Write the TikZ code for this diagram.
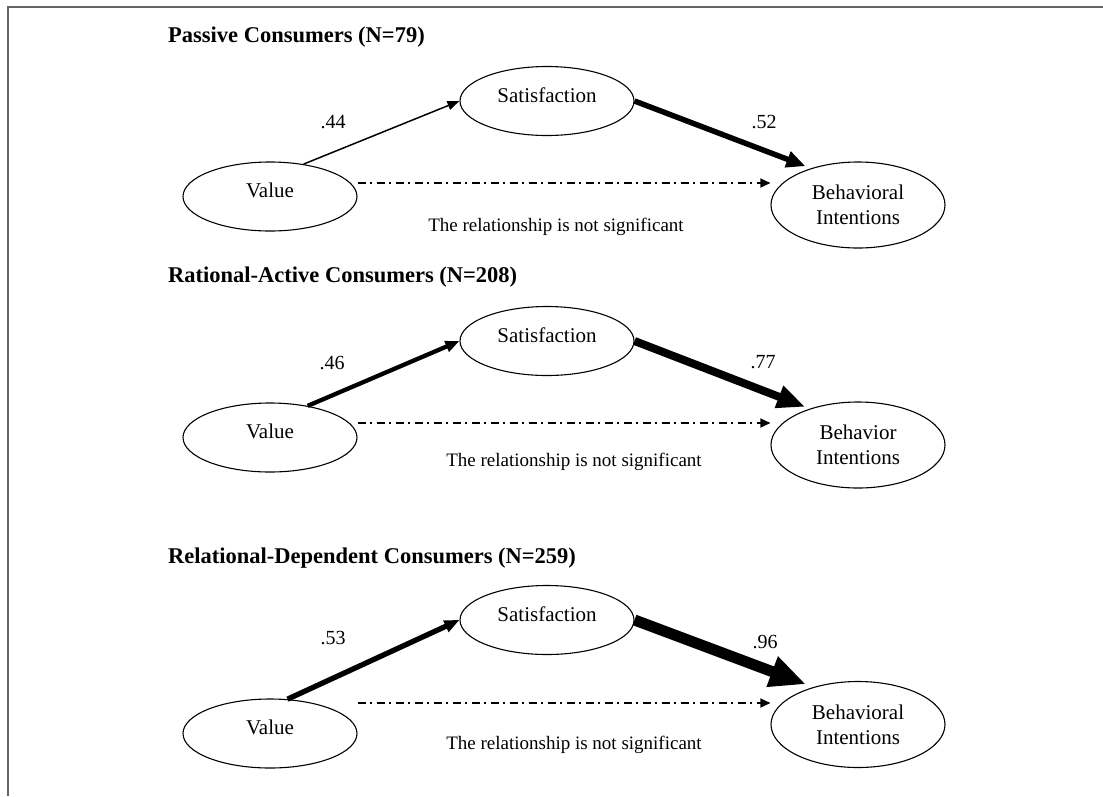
\documentclass[tikz,border=0pt]{standalone}
\usepackage{fontspec}
\setmainfont{Liberation Serif}
\usetikzlibrary{arrows.meta,shapes.geometric}
\begin{document}
\begin{tikzpicture}[x=1pt,y=-1pt,
  ovalbase/.style={draw,ellipse,line width=1.1pt,inner sep=0pt,minimum width=174pt,
    font=\fontsize{21}{25}\selectfont,align=center},
  oval/.style={ovalbase,minimum height=69pt,text depth=12pt},
  bigoval/.style={ovalbase,minimum height=86pt},
  ttl/.style={anchor=base west,inner sep=0pt,font=\fontsize{22.5}{27}\bfseries\selectfont},
  coef/.style={inner sep=0pt,font=\fontsize{20}{24}\selectfont},
  nsig/.style={inner sep=0pt,font=\fontsize{19}{23}\selectfont},
  dd/.style={line width=1.3pt,dash pattern=on 8pt off 4.5pt on 2pt off 4.5pt,
    -{Triangle[length=10pt,width=9pt]}},
  pathA/.style={line width=1.5pt,-{Triangle[length=12pt,width=9pt]}},
  pathB/.style={line width=4.3pt,-{Triangle[length=14pt,width=11pt]}},
  pathC/.style={line width=5.3pt,-{Triangle[length=15pt,width=12pt]}},
  pathD/.style={line width=5.5pt,-{Triangle[length=19pt,width=16pt]}},
  pathE/.style={line width=8pt,-{Triangle[length=28pt,width=22pt]}},
  pathF/.style={line width=11pt,-{Triangle[length=36pt,width=30pt]}},
  frame/.style={draw=black!60,line width=2.5pt}
]
\useasboundingbox (0,0) rectangle (1103,796);
\draw[frame] (1103,7) -- (8,7) -- (8,796);

% ---------- Passive ----------
\node[ttl] (t1) at (168,42) {Passive Consumers (N=79)};
\node[oval] (S1) at (547,101) {Satisfaction};
\node[oval] (V1) at (270,196.5) {Value};
\node[bigoval] (B1) at (858,205) {Behavioral\\Intentions};
\draw[pathA] (V1.44) -- (S1.west);
\draw[pathD,shorten >=6pt] (S1.east) -- (B1.142);
\draw[dd] ([yshift=13.5pt]V1.east) -- ([yshift=22pt]B1.west);
\node[coef] (c1) at (333,122) {.44};
\node[coef] (c2) at (764,122) {.52};
\node[nsig] (n1) at (556,227) {The relationship is not significant};

% ---------- Rational-Active ----------
\node[ttl] (t2) at (168,282) {Rational-Active Consumers (N=208)};
\node[oval] (S2) at (547,341) {Satisfaction};
\node[oval] (V2) at (270,437.5) {Value};
\node[bigoval] (B2) at (858,445) {Behavior\\Intentions};
\draw[pathB] (V2.40) -- (S2.west);
\draw[pathE,shorten >=5pt] (S2.east) -- (B2.143);
\draw[dd] ([yshift=14.5pt]V2.east) -- ([yshift=22pt]B2.west);
\node[coef] (c3) at (332,363) {.46};
\node[coef] (c4) at (763,362) {.77};
\node[nsig] (n2) at (574,462) {The relationship is not significant};

% ---------- Relational-Dependent ----------
\node[ttl] (t3) at (168,563) {Relational-Dependent Consumers (N=259)};
\node[oval] (S3) at (547,620) {Satisfaction};
\node[oval] (V3) at (270,733.5) {Value};
\node[bigoval] (B3) at (858,724.5) {Behavioral\\Intentions};
\draw[pathC] (V3.63) -- (S3.west);
\draw[pathF,shorten >=8pt] (S3.east) -- (B3.140);
\draw[dd] ([yshift=30.5pt]V3.east) -- ([yshift=21.5pt]B3.west);
\node[coef] (c5) at (333,638) {.53};
\node[coef] (c6) at (765,642) {.96};
\node[nsig] (n3) at (574,745) {The relationship is not significant};
\end{tikzpicture}
\end{document}
